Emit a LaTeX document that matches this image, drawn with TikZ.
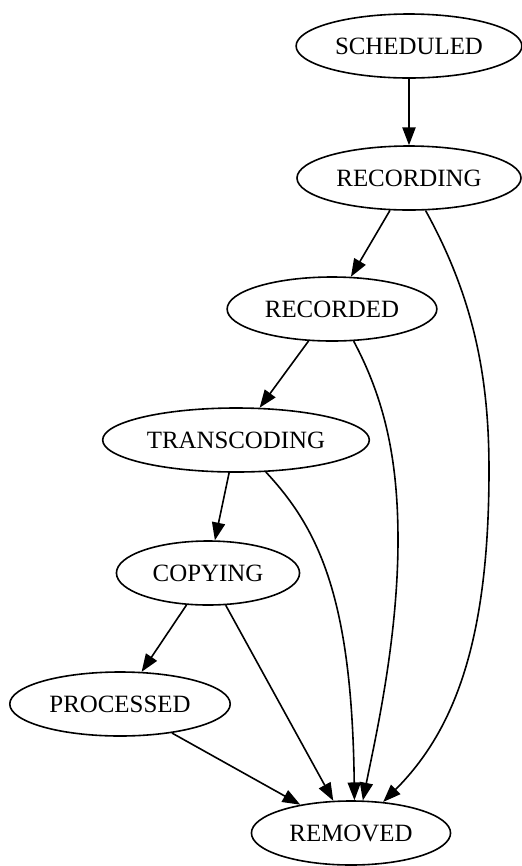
\documentclass[tikz,border=0pt]{standalone}
\usepackage{fontspec}
\setmainfont{Liberation Serif}
\usetikzlibrary{
  arrows.meta,
  shapes.geometric
}

\begin{document}
\begin{tikzpicture}[
    x=0.5625pt,
    y=-0.5625pt,
    >={Triangle[length=10pt,width=7.4pt]},
    line width=0.9pt,
    state/.style={ellipse,draw,inner sep=0pt,minimum height=36pt,
      font=\fontsize{14pt}{16pt}\selectfont}
    ]
    
    \useasboundingbox (0,0) rectangle (522,866);
    
    \node[state,minimum width=127pt] (scheduled) at (409,46) {SCHEDULED};
    \node[state,minimum width=126pt] (recording) at (409,178) {RECORDING};
    \node[state,minimum width=118pt] (recorded) at (332,309) {RECORDED};
    \node[state,minimum width=150pt] (transcoding) at (236,440) {TRANSCODING};
    \node[state,minimum width=103pt] (copying) at (208,573) {COPYING};
    \node[state,minimum width=124pt] (processed) at (120,704) {PROCESSED};
    \node[state,minimum width=112pt] (removed) at (351,833) {REMOVED};
    
    \draw[->] (scheduled) -- (recording);
    \draw[->] (recording) -- (recorded);
    \draw[->] (recorded) -- (transcoding);
    \draw[->] (transcoding) -- (copying);
    \draw[->] (copying) -- (processed);
    \draw[->] (copying) -- (removed);
    \draw[->] (processed) -- (removed);
    
    \draw[->] (recording.-63)
    .. controls (475,300) and (489,380) .. (489,470)
    .. controls (489,640) and (455,730) .. (removed.44);
    
    \draw[->] (recorded.-56)
    .. controls (385,400) and (398,460) .. (398,540)
    .. controls (398,640) and (375,740) .. (removed.70);
    
    \draw[->] (transcoding.-47)
    .. controls (320,530) and (352,600) .. (removed.84);
    
\end{tikzpicture}
\end{document}
